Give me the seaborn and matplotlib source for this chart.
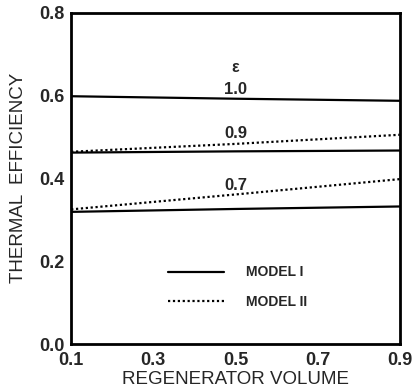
import matplotlib
matplotlib.use("Agg")
import matplotlib.pyplot as plt
import seaborn as sns
import pandas as pd
from matplotlib.lines import Line2D

# Data
x_vals = [0.1, 0.5, 0.9]
m1_eps10 = [0.598, 0.592, 0.587]
m1_eps09 = [0.462, 0.465, 0.467]
m2_eps09 = [0.464, 0.483, 0.505]
m1_eps07 = [0.319, 0.326, 0.332]
m2_eps07 = [0.325, 0.361, 0.398]

series = [
    ("MODEL I", "1.0", m1_eps10),
    ("MODEL I", "0.9", m1_eps09),
    ("MODEL II", "0.9", m2_eps09),
    ("MODEL I", "0.7", m1_eps07),
    ("MODEL II", "0.7", m2_eps07),
]
rows = []
for model, eps, vals in series:
    for xv, yv in zip(x_vals, vals):
        rows.append({"model": model, "eps": eps, "unit": model + eps, "x": xv, "y": yv})
df = pd.DataFrame(rows)

curve_labels = [("1.0", 0.5, 0.614), ("0.9", 0.5, 0.507), ("0.7", 0.5, 0.383)]
x_ticks = [0.1, 0.2, 0.3, 0.4, 0.5, 0.6, 0.7, 0.8, 0.9]
x_ticklabels = ["0.1", "", "0.3", "", "0.5", "", "0.7", "", "0.9"]
y_ticks = [0.0, 0.1, 0.2, 0.3, 0.4, 0.5, 0.6, 0.7, 0.8]
y_ticklabels = ["0.0", "", "0.2", "", "0.4", "", "0.6", "", "0.8"]

sns.set_style("white")
plt.rcParams["font.family"] = ["Liberation Sans", "DejaVu Sans"]

fig = plt.figure(figsize=(4.16, 3.91), dpi=100)
ax = fig.add_axes([0.171, 0.12, 0.790, 0.848])

sns.lineplot(
    data=df, x="x", y="y", style="model", units="unit", estimator=None,
    color="black", dashes={"MODEL I": "", "MODEL II": (1, 1.2)},
    linewidth=1.6, ax=ax, legend=False,
)

ax.set_xlim(0.1, 0.9)
ax.set_ylim(0.0, 0.8)
ax.set_xticks(x_ticks)
ax.set_xticklabels(x_ticklabels, fontsize=13, fontweight="bold")
ax.set_yticks(y_ticks)
ax.set_yticklabels(y_ticklabels, fontsize=13, fontweight="bold")
ax.tick_params(direction="in", length=6, width=1.6)
ax.tick_params(axis="x", pad=6)
ax.tick_params(axis="y", pad=5)
for s in ax.spines.values():
    s.set_linewidth(2.0)
    s.set_color("black")

ax.set_xlabel("REGENERATOR VOLUME", fontsize=13.5)
ax.set_ylabel("THERMAL  EFFICIENCY", fontsize=13.5)
ax.xaxis.set_label_coords(0.5, -0.082)
ax.yaxis.set_label_coords(-0.133, 0.5)

ax.text(0.5, 0.668, "ε", ha="center", va="center", fontsize=11.5, fontweight="bold")
for lab, xv, yv in curve_labels:
    ax.text(xv, yv, lab, ha="center", va="center", fontsize=12, fontweight="bold")

handles = [
    Line2D([0], [0], color="black", lw=1.6),
    Line2D([0], [0], color="black", lw=1.6, dashes=(1, 1.2)),
]
ax.legend(handles, ["MODEL I", "MODEL II"], frameon=False, loc="center left",
          bbox_to_anchor=(0.295, 0.172), handlelength=4.0, handletextpad=1.6,
          labelspacing=1.1, borderpad=0, borderaxespad=0,
          prop={"weight": "bold", "size": 10})

fig.savefig("out.png", dpi=100)
